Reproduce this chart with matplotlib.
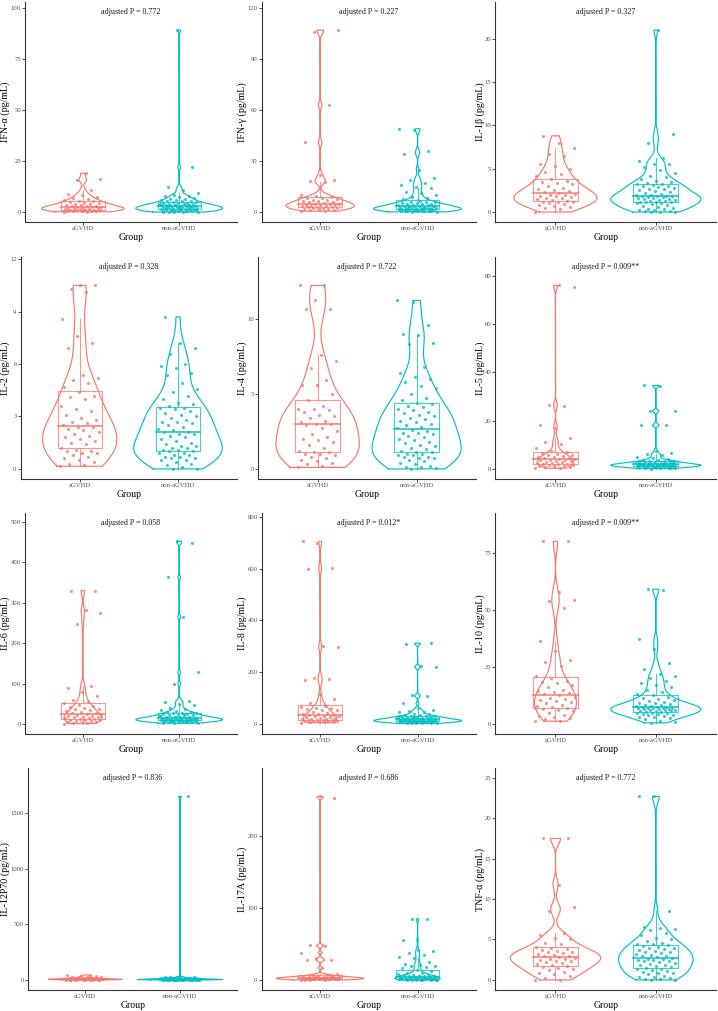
import numpy as np
import matplotlib
matplotlib.use("Agg")
import matplotlib.pyplot as plt

plt.rcParams['font.family'] = ['Liberation Serif', 'DejaVu Serif']

groups = ['aGVHD', 'non-aGVHD']
colors = ['#F8766D', '#00BFC4']

labels = ['IFN-α (pg/mL)', 'IFN-γ (pg/mL)', 'IL-1β (pg/mL)',
          'IL-2 (pg/mL)', 'IL-4 (pg/mL)', 'IL-5 (pg/mL)',
          'IL-6 (pg/mL)', 'IL-8 (pg/mL)', 'IL-10 (pg/mL)',
          'IL-12P70 (pg/mL)', 'IL-17A (pg/mL)', 'TNF-α (pg/mL)']
pvals = ['0.772', '0.227', '0.327', '0.328', '0.722', '0.009**',
         '0.058', '0.012*', '0.009**', '0.836', '0.686', '0.772']
yticks = [[0, 25, 50, 75, 100], [0, 30, 60, 90, 120], [0, 5, 10, 15, 20],
          [0, 3, 6, 9, 12], [0, 5, 10], [0, 20, 40, 60, 80],
          [0, 100, 200, 300, 400, 500], [0, 200, 400, 600, 800], [0, 25, 50, 75],
          [0, 500, 1000, 1500], [0, 100, 200], [0, 5, 10, 15, 20, 25]]

# valeurs (pg/mL)
ifna_a = [0.1,0.2,0.3,0.4,0.5,0.6,0.7,0.8,0.9,1.0,1.1,1.2,1.4,1.5,1.6,1.8,2.0,2.1,2.2,2.3,2.4,2.5,2.7,2.9,3.1,3.3,3.5,3.8,4.0,4.3,4.6,4.9,5.2,5.5,5.8,6.2,6.8,7.5,8.3,9.0,11.0,15.5,16.0,19.0]
ifna_b = [0.0,0.1,0.1,0.2,0.3,0.4,0.5,0.6,0.7,0.8,0.9,1.0,1.1,1.2,1.3,1.4,1.5,1.6,1.8,1.9,2.0,2.1,2.2,2.3,2.4,2.5,2.6,2.7,2.8,2.9,3.0,3.1,3.2,3.3,3.4,3.5,3.7,3.9,4.0,4.2,4.4,4.6,4.8,5.0,5.2,5.4,5.6,5.8,6.0,6.3,6.6,7.0,7.4,7.8,8.0,8.2,9.5,11.0,12.0,22.0,89.0,0.2,0.5,0.8,1.2,1.7,2.2,2.6,3.3,4.1]
ifng_a = [0.5,0.8,1.0,1.2,1.5,1.8,2.0,2.2,2.4,2.6,2.8,3.0,3.2,3.4,3.6,3.8,4.0,4.2,4.4,4.6,4.8,5.0,5.3,5.6,5.9,6.2,6.5,6.8,7.1,7.5,8.0,8.5,9.0,9.5,10.0,17.5,18.0,19.0,22.0,41.0,63.0,106.0,107.0]
ifng_b = [0.1,0.2,0.3,0.4,0.5,0.6,0.7,0.8,0.9,1.0,1.1,1.2,1.3,1.4,1.5,1.6,1.7,1.8,1.9,2.0,2.1,2.2,2.3,2.4,2.5,2.6,2.8,3.0,3.2,3.4,3.5,3.6,3.8,4.0,4.2,4.4,4.6,4.8,5.0,5.2,5.4,5.6,5.8,6.0,6.2,0.3,0.6,1.1,1.5,2.2,2.9,3.3,7.0,7.5,8.0,9.0,10.0,11.0,12.0,14.0,15.0,16.0,17.0,19.0,20.0,25.0,34.0,36.0,48.0,49.0]
il1b_a = [0.0,0.3,0.5,0.6,0.7,0.8,0.9,1.0,1.1,1.1,1.2,1.3,1.4,1.5,1.6,1.6,1.7,1.8,1.9,2.0,2.0,2.1,2.2,2.3,2.4,2.5,2.6,2.8,3.0,3.2,3.4,3.5,3.6,3.8,4.2,4.4,4.6,5.0,5.3,5.6,6.5,6.7,7.4,8.0,8.8]
il1b_b = [0.0,0.0,0.05,0.1,0.1,0.2,0.2,0.3,0.4,0.5,0.6,0.7,0.8,0.9,1.0,1.0,1.1,1.1,1.2,1.2,1.3,1.3,1.4,1.4,1.5,1.5,1.6,1.6,1.7,1.7,1.8,1.8,1.9,1.9,2.0,2.0,2.1,2.2,2.3,2.4,2.5,2.6,2.7,2.8,2.9,3.0,3.0,3.1,3.2,3.2,3.3,3.5,3.6,3.8,4.0,4.2,4.5,4.8,5.2,5.5,5.6,5.9,6.2,8.0,9.0,21.0]
il2_a = [0.15,0.2,0.3,0.4,0.5,0.6,0.7,0.8,0.9,0.9,1.0,1.0,1.1,1.2,1.4,1.5,1.6,1.7,1.8,1.9,2.0,2.1,2.2,2.3,2.4,2.4,2.5,2.6,2.7,2.8,2.9,3.1,3.3,3.4,3.6,4.0,4.1,4.2,4.4,4.7,4.9,5.1,5.2,5.4,6.9,7.2,7.6,8.6,10.1,10.3,10.5,10.5]
il2_b = [0.0,0.0,0.1,0.2,0.3,0.4,0.5,0.5,0.6,0.6,0.7,0.7,0.8,0.8,0.9,0.9,1.0,1.0,1.1,1.1,1.2,1.2,1.3,1.3,1.4,1.5,1.6,1.7,1.8,1.9,2.0,2.0,2.1,2.1,2.2,2.3,2.4,2.5,2.6,2.7,2.7,2.8,2.9,3.0,3.1,3.2,3.3,3.4,3.5,3.5,3.6,3.7,3.8,4.0,4.2,4.4,4.6,4.9,5.4,5.5,5.8,5.9,6.0,6.6,6.9,7.2,8.7]
il4_a = [0.1,0.2,0.3,0.4,0.5,0.6,0.7,0.8,0.9,1.0,1.0,1.1,1.1,1.2,1.4,1.6,1.8,1.9,2.0,2.1,2.3,2.5,2.7,2.9,3.0,3.0,3.1,3.2,3.4,3.5,3.6,3.8,3.9,4.0,4.0,4.2,4.6,5.0,5.6,5.6,5.9,6.7,7.2,7.6,10.6,10.6,11.2,12.2,12.2]
il4_b = [0.0,0.05,0.1,0.15,0.2,0.3,0.4,0.5,0.6,0.7,0.7,0.8,0.8,0.9,0.9,1.0,1.0,1.1,1.1,1.2,1.3,1.4,1.5,1.6,1.7,1.8,1.9,2.0,2.1,2.2,2.3,2.4,2.4,2.5,2.6,2.7,2.8,2.9,3.0,3.1,3.2,3.3,3.4,3.5,3.6,3.7,3.8,3.9,4.0,4.1,4.2,4.3,4.4,4.6,4.7,5.0,5.4,5.5,5.8,6.0,6.1,6.4,6.8,8.3,8.4,8.9,9.0,9.6,11.1,11.2]
il5_a = [0.3,0.5,0.7,0.9,1.0,1.2,1.4,1.5,1.7,1.9,2.0,2.2,2.4,2.6,2.8,3.0,3.2,3.4,3.6,3.7,3.8,4.0,4.2,4.4,4.6,4.8,5.0,5.3,5.6,5.9,6.0,6.4,6.8,7.5,8.5,10.5,11.3,12.6,16.8,18.0,26.0,26.5,75.5,76.0]
il5_b = [0.1,0.2,0.3,0.4,0.5,0.6,0.7,0.8,0.9,1.0,1.0,1.1,1.1,1.2,1.2,1.3,1.3,1.4,1.4,1.5,1.5,1.6,1.6,1.7,1.7,1.8,1.8,1.9,1.9,2.0,2.0,2.1,2.2,2.3,2.4,2.5,2.6,2.7,2.8,2.9,3.0,3.1,3.2,3.4,3.6,3.8,4.0,4.4,5.0,5.6,6.0,6.4,7.6,18.0,18.2,23.8,24.0,34.2,34.6,0.5,0.9,1.3,1.6,2.1,2.4]
il6_a = [1,2,3,4,5,6,7,8,9,10,11,12,13,14,15,16,17,18,19,20,21,22,24,26,28,30,32,34,36,38,40,42,45,48,52,55,60,70,80,90,95,248,275,283,328,330]
il6_b = [2,3,4,4,5,5,6,6,7,7,8,8,8,9,9,9,10,10,10,11,11,11,12,12,12,13,13,14,14,15,15,16,16,17,18,19,20,21,22,23,24,25,26,27,28,29,30,32,35,38,40,47,50,55,58,100,128,265,363,449,452,3,6,8,10,12,13,15,18,20,24]
il8_a = [5,6,7,8,9,10,11,12,13,14,15,16,17,18,19,20,22,24,26,28,29,30,32,34,36,38,40,44,48,52,55,58,60,62,65,70,80,98,115,170,175,178,298,300,600,603,700,705]
il8_b = [2,3,4,5,5,6,6,7,7,8,8,9,9,10,10,11,11,12,12,13,13,14,14,15,15,16,16,17,17,18,18,19,20,21,22,23,24,25,26,27,28,29,30,32,34,36,38,40,45,48,50,55,60,80,108,110,218,222,308,312,4,7,9,12,14,16,19,22,26,30]
il10_a = [1.2,1.5,2.0,2.5,3.0,3.5,4.0,5.0,5.5,6.0,6.5,7.0,7.5,8.0,8.5,9.0,9.5,10.0,10.5,11.0,11.5,12.0,12.5,13.0,13.5,14.0,14.5,15.0,16.0,17.0,18.0,18.5,19.0,20.0,21.0,25.5,27.0,28.0,32.0,36.5,51.0,54.0,54.3,58.0,80.0,80.0]
il10_b = [0.5,1.0,1.5,2.0,2.5,3.0,3.2,3.5,3.8,4.0,4.2,4.5,4.7,5.0,5.0,5.2,5.4,5.5,5.6,5.8,6.0,6.0,6.2,6.4,6.5,6.6,6.8,7.0,7.0,7.1,7.2,7.4,7.5,7.6,7.8,8.0,8.2,8.5,8.8,9.0,9.3,9.6,10.0,10.5,11.0,11.5,12.0,12.5,13.0,14.0,15.0,16.0,17.0,18.0,19.0,20.0,21.0,22.0,24.0,26.5,33.0,37.0,58.5,59.0]
il12_a = [0.5,1,1.5,2,2.5,3,3.5,4,4.5,5,5.5,6,6.5,7,7.5,8,8.5,9,9.5,10,11,12,13,14,15,16,18,20,22,25,28,30,35,38,40,45,0.8,1.2,2.2,3.2,4.2,5.2,6.2,7.2,8.2,9.2]
il12_b = [0.2,0.5,0.8,1,1.2,1.5,1.8,2,2.2,2.5,2.8,3,3.3,3.6,4,4.3,4.6,5,5.5,6,6.5,7,7.5,8,8.5,9,9.5,10,11,12,13,14,15,16,17,18,20,22,25,28,30,1650,0.3,0.7,1.1,1.6,2.1,2.6,3.1,3.8,4.5,5.2,5.8,6.8,7.8,8.8,9.8,10.5,11.5,12.5,14.5,19]
il17_a = [0.0,0.3,0.5,0.7,0.9,1.0,1.1,1.2,1.4,1.6,1.8,2.0,2.2,2.3,2.4,2.6,2.8,3.0,3.2,3.5,3.8,4.0,4.3,4.6,5.0,5.5,6.0,6.5,7.0,8.0,17.0,27.0,28.0,30.0,38.0,47.0,48.0,253.0,255.0,0.2,0.6,1.3,1.9,2.5,3.3,4.4]
il17_b = [0.0,0.1,0.2,0.3,0.4,0.5,0.6,0.7,0.8,0.9,1.0,1.1,1.2,1.3,1.4,1.5,1.6,1.8,2.0,2.2,2.4,2.6,2.8,3.0,3.3,3.6,4.0,4.4,4.8,5.2,5.6,6.0,6.5,7.0,7.5,8.0,9.0,10.0,12.0,14.0,16.0,18.0,19.0,20.0,21.0,22.0,25.0,30.0,32.0,35.0,38.0,40.0,42.0,55.0,84.0,85.0,0.2,0.5,0.9,1.3,1.7,2.3,2.9,3.8,4.6,5.8]
tnfa_a = [0.0,0.0,0.2,0.5,0.7,0.9,1.0,1.2,1.3,1.5,1.6,1.7,1.8,2.0,2.1,2.2,2.3,2.4,2.5,2.6,2.6,2.7,2.8,2.9,3.0,3.1,3.2,3.3,3.4,3.5,3.6,3.7,3.8,3.9,4.1,4.4,4.6,5.0,5.2,5.5,5.8,8.5,9.0,11.8,17.5,17.5]
tnfa_b = [0.0,0.0,0.1,0.1,0.2,0.3,0.4,0.5,0.7,0.8,0.9,1.0,1.1,1.2,1.3,1.4,1.5,1.6,1.7,1.8,1.9,2.0,2.1,2.2,2.3,2.4,2.5,2.5,2.6,2.6,2.7,2.8,2.9,3.0,3.1,3.2,3.3,3.4,3.5,3.6,3.7,3.8,3.9,4.0,4.1,4.2,4.3,4.4,4.5,4.6,4.8,5.0,5.2,5.5,5.8,6.2,6.3,6.4,6.6,8.5,22.7,22.7]

data = [(ifna_a, ifna_b), (ifng_a, ifng_b), (il1b_a, il1b_b),
        (il2_a, il2_b), (il4_a, il4_b), (il5_a, il5_b),
        (il6_a, il6_b), (il8_a, il8_b), (il10_a, il10_b),
        (il12_a, il12_b), (il17_a, il17_b), (tnfa_a, tnfa_b)]

# position des panneaux en pixels (gauche, haut, bas) ; droite selon la colonne
lefts = [[25, 261.7, 495.3], [20.7, 258.3, 495.3], [25, 261.7, 495.3], [28.3, 261.7, 495.3]]
rights = [237, 476, 716]
ylab_x = [5.5, 242.5, 480]
tops = [2, 257, 513, 768]
bottoms = [222, 479, 734, 990]
W, H = 718, 1011


def nrd0(x):
    # bande passante de R (bw.nrd0)
    sd = np.std(x, ddof=1)
    iqr = np.subtract(*np.percentile(x, [75, 25]))
    lo = min(sd, iqr / 1.34)
    if lo == 0:
        lo = sd
    return 0.9 * lo * len(x) ** -0.2


def kde(x):
    x = np.asarray(x, float)
    bw = nrd0(x)
    grid = np.linspace(x.min(), x.max(), 512)
    d = np.exp(-0.5 * ((grid[:, None] - x[None, :]) / bw) ** 2).sum(1) / (len(x) * bw * np.sqrt(2 * np.pi))
    return grid, d


fig = plt.figure(figsize=(W / 100, H / 100), dpi=100)

for k in range(12):
    r, c = divmod(k, 3)
    L, R, T, B = lefts[r][c], rights[c], tops[r], bottoms[r]
    ax = fig.add_axes([L / W, 1 - B / H, (R - L) / W, (B - T) / H])

    dens = [kde(v) for v in data[k]]
    dmax = max(d.max() for g, d in dens)
    for i, vals in enumerate(data[k]):
        pos = i + 1
        col = colors[i]
        v = np.asarray(vals, float)
        # violon
        g, d = dens[i]
        hw = 0.45 * d / dmax
        xs = np.concatenate([pos - hw, (pos + hw)[::-1], [pos - hw[0]]])
        ys = np.concatenate([g, g[::-1], [g[0]]])
        ax.plot(xs, ys, color=col, lw=0.85, zorder=2)
        # boite
        q1, med, q3 = np.percentile(v, [25, 50, 75])
        iqr = q3 - q1
        wlo = v[v >= q1 - 1.5 * iqr].min()
        whi = v[v <= q3 + 1.5 * iqr].max()
        bw = 0.225
        ax.plot([pos - bw, pos + bw, pos + bw, pos - bw, pos - bw], [q1, q1, q3, q3, q1],
                color=col, lw=0.8, alpha=0.75, zorder=3)
        ax.plot([pos - bw, pos + bw], [med, med], color=col, lw=1.4, alpha=0.75, zorder=3)
        ax.plot([pos, pos], [q3, whi], color=col, lw=0.8, alpha=0.75, zorder=3)
        ax.plot([pos, pos], [wlo, q1], color=col, lw=0.8, alpha=0.75, zorder=3)
        # points (jitter régulier)
        idx = np.arange(len(v))
        jit = 0.2 * (2 * ((idx * 0.6180339 + 0.37 * i) % 1.0) - 1)
        ax.scatter(pos + jit, v, s=5, color=col, alpha=0.8, linewidths=0, zorder=4)

    allv = np.concatenate([np.asarray(a, float) for a in data[k]])
    ytxt = 1.1 * allv.max()
    lo = min(allv.min(), 0)
    span = ytxt - lo
    ax.set_ylim(lo - 0.05 * span, ytxt + 0.05 * span)
    ax.set_xlim(0.4, 2.6)
    ax.text(1.5, ytxt, 'adjusted P = ' + pvals[k], ha='center', va='center', fontsize=5.8, color='#1a1a1a')

    ax.set_xticks([1, 2])
    ax.set_xticklabels(groups)
    ax.set_yticks(yticks[k])
    ax.tick_params(labelsize=4.8, colors='#333333', length=2, width=0.6, pad=1)
    ax.tick_params(labelcolor='#4d4d4d')
    for s in ['top', 'right']:
        ax.spines[s].set_visible(False)
    for s in ['left', 'bottom']:
        ax.spines[s].set_linewidth(0.8)
        ax.spines[s].set_color('#333333')
    ax.set_xlabel('Group', fontsize=7, labelpad=1)
    ax.set_ylabel(labels[k], fontsize=7.2, va='center')
    ax.yaxis.set_label_coords((ylab_x[c] - L) / (R - L), 0.5)

fig.savefig('out.png', dpi=100)
